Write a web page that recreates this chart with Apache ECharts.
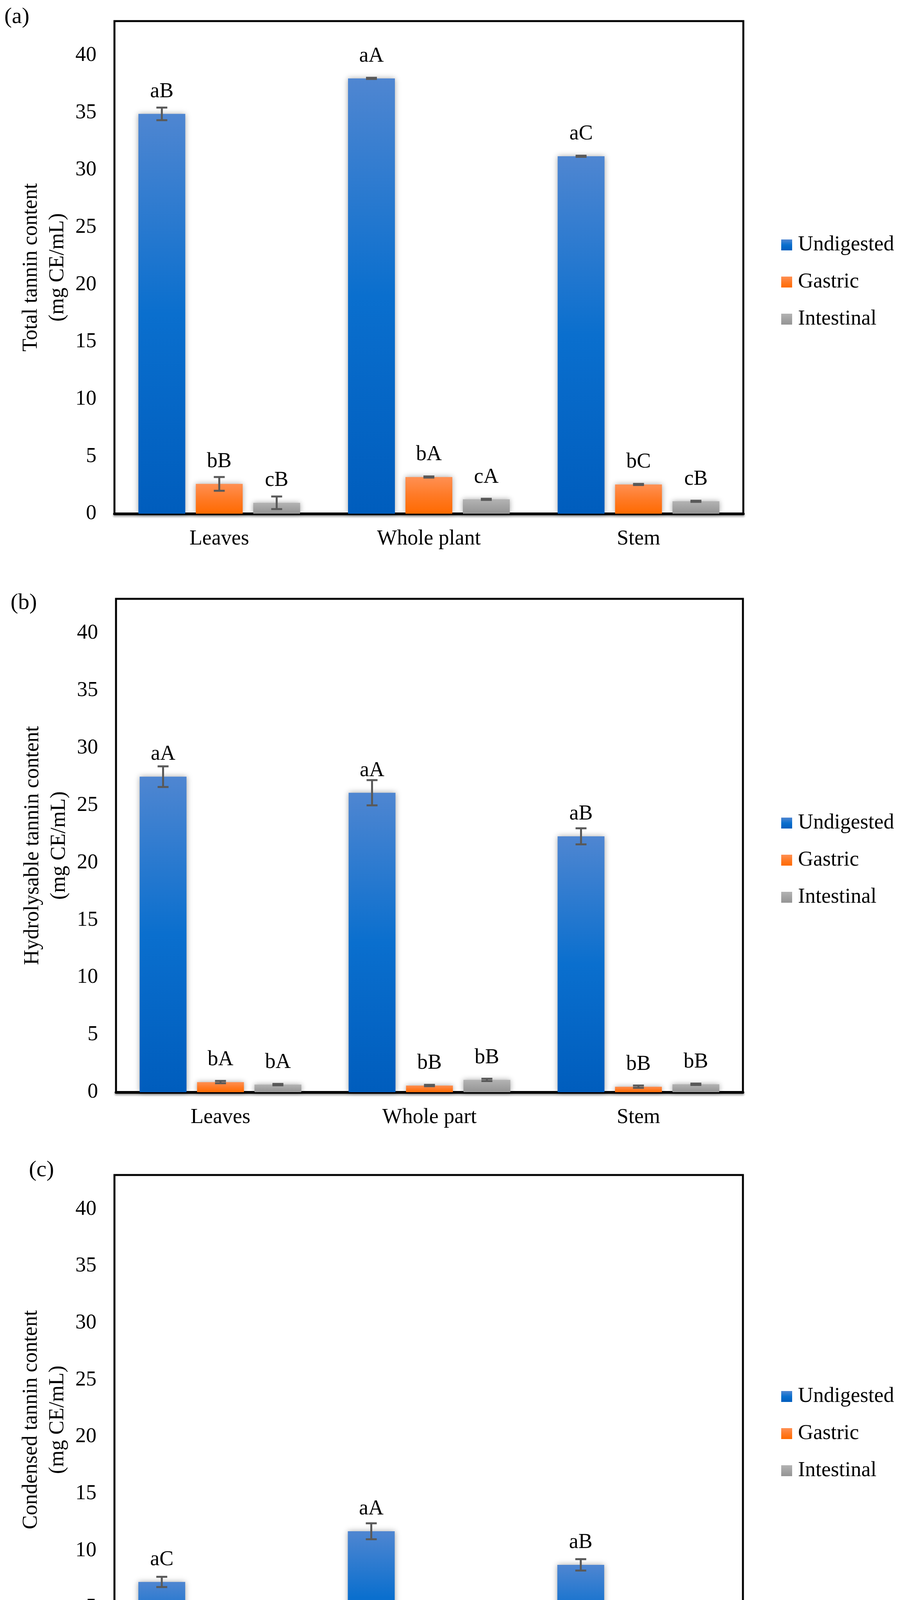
<!DOCTYPE html>
<html>
<head>
<meta charset="utf-8">
<script src="https://cdn.jsdelivr.net/npm/echarts@6/dist/echarts.min.js"></script>
<style>
html,body{margin:0;padding:0;background:#fff;}
#chart{width:2299px;height:4370px;}
</style>
</head>
<body>
<div id="chart"></div>
<script>
// ---------- data ----------
const seriesNames = ['Undigested', 'Gastric', 'Intestinal'];
const yTicks = [0, 5, 10, 15, 20, 25, 30, 35, 40];

// (a) Total tannin
const catsA = ['Leaves', 'Whole plant', 'Stem'];
const aUndigested = [34.9, 38.0, 31.2];
const aGastric = [2.6, 3.2, 2.55];
const aIntestinal = [0.95, 1.25, 1.08];
const aErrUndigested = [0.55, 0.05, 0.05];
const aErrGastric = [0.6, 0.05, 0.05];
const aErrIntestinal = [0.55, 0.05, 0.05];
const aLetUndigested = ['aB', 'aA', 'aC'];
const aLetGastric = ['bB', 'bA', 'bC'];
const aLetIntestinal = ['cB', 'cA', 'cB'];

// (b) Hydrolysable tannin
const catsB = ['Leaves', 'Whole part', 'Stem'];
const bUndigested = [27.5, 26.1, 22.3];
const bGastric = [0.88, 0.58, 0.48];
const bIntestinal = [0.66, 1.07, 0.69];
const bErrUndigested = [0.9, 1.1, 0.7];
const bErrGastric = [0.1, 0.06, 0.1];
const bErrIntestinal = [0.06, 0.1, 0.06];
const bLetUndigested = ['aA', 'aA', 'aB'];
const bLetGastric = ['bA', 'bB', 'bB'];
const bLetIntestinal = ['bA', 'bB', 'bB'];

// (c) Condensed tannin
const catsC = ['Leaves', 'Whole part', 'Stem'];
const cUndigested = [7.25, 11.7, 8.75];
const cGastric = [1.55, 2.6, 2.0];
const cIntestinal = [0.33, 0.24, 0.36];
const cErrUndigested = [0.45, 0.7, 0.5];
const cErrGastric = [0.08, 0.05, 0.04];
const cErrIntestinal = [0.04, 0.04, 0.04];
const cLetUndigested = ['aC', 'aA', 'aB'];
const cLetGastric = ['bC', 'bA', 'bB'];
const cLetIntestinal = ['cB', 'cC', 'cA'];

const panelLabels = ['(a)', '(b)', '(c)'];
const yTitles = ['Total tannin content\n(mg CE/mL)', 'Hydrolysable tannin content\n(mg CE/mL)', 'Condensed tannin content\n(mg CE/mL)'];

// ---------- styling ----------
const FONT = 'Liberation Serif';
const FS = 54;
const BAR_W = 120;
const BAR_GAP_PX = 27;
function grad(stops) {
  return new echarts.graphic.LinearGradient(0, 0, 0, 1, stops.map((c, i) => ({offset: i / (stops.length - 1), color: c})));
}
const fills = [
  grad(['#4f86d1', '#0a6fce', '#005dbd']),
  grad(['#ff9053', '#ff7a26', '#ff6a00']),
  grad(['#b3b3b3', '#a3a3a3', '#949494'])
];

const panels = [
  {cats: catsA, vals: [aUndigested, aGastric, aIntestinal], errs: [aErrUndigested, aErrGastric, aErrIntestinal], lets: [aLetUndigested, aLetGastric, aLetIntestinal],
   grid: {left: 293, top: 54, width: 1610, height: 1261}, legendTop: 595, title: {left: 6, top: 10}},
  {cats: catsB, vals: [bUndigested, bGastric, bIntestinal], errs: [bErrUndigested, bErrGastric, bErrIntestinal], lets: [bLetUndigested, bLetGastric, bLetIntestinal],
   grid: {left: 297, top: 1533, width: 1605, height: 1263}, legendTop: 2075, title: {left: 22, top: 1510}},
  {cats: catsC, vals: [cUndigested, cGastric, cIntestinal], errs: [cErrUndigested, cErrGastric, cErrIntestinal], lets: [cLetUndigested, cLetGastric, cLetIntestinal],
   grid: {left: 293, top: 3008, width: 1609, height: 1253}, legendTop: 3543, title: {left: 69, top: 2962}}
];

const option = {
  animation: false,
  backgroundColor: '#fff',
  title: [], grid: [], xAxis: [], yAxis: [], legend: [], series: []
};

panels.forEach((p, pi) => {
  option.title.push({text: panelLabels[pi], left: p.title.left, top: p.title.top, textStyle: {fontFamily: FONT, fontSize: 58, fontWeight: 'normal', color: '#000'}});
  option.grid.push(Object.assign({show: true, borderColor: '#000', borderWidth: 5, backgroundColor: 'transparent', containLabel: false}, p.grid));
  option.xAxis.push({
    type: 'category', gridIndex: pi, data: p.cats,
    axisTick: {show: false},
    axisLine: {lineStyle: {color: '#000', width: 7, shadowColor: 'rgba(0,0,0,0.35)', shadowBlur: 4, shadowOffsetY: 4}},
    axisLabel: {fontFamily: FONT, fontSize: FS, color: '#000', margin: 38}
  });
  option.yAxis.push({
    type: 'value', gridIndex: pi, min: 0, max: 43, interval: 5,
    splitLine: {show: false}, axisTick: {show: false}, axisLine: {show: false},
    axisLabel: {fontFamily: FONT, fontSize: FS, color: '#000', margin: 46,
      formatter: v => (yTicks.indexOf(v) >= 0 ? String(v) : '')},
    name: yTitles[pi], nameLocation: 'middle', nameGap: 109,
    nameTextStyle: {fontFamily: FONT, fontSize: FS, color: '#000', lineHeight: 68}
  });
  option.legend.push({
    data: seriesNames, orient: 'vertical', left: 1995, top: p.legendTop,
    itemWidth: 28, itemHeight: 28, itemGap: 41, icon: 'rect', selectedMode: false,
    textStyle: {fontFamily: FONT, fontSize: FS, color: '#000', padding: [0, 0, 0, 10]}
  });
  seriesNames.forEach((name, si) => {
    const lets = p.lets[si];
    option.series.push({
      type: 'bar', name: name, xAxisIndex: pi, yAxisIndex: pi,
      data: p.vals[si], barWidth: BAR_W, barGap: (BAR_GAP_PX / BAR_W * 100) + '%',
      itemStyle: {color: fills[si], shadowColor: 'rgba(0,0,0,0.35)', shadowBlur: 14},
      label: {show: true, position: 'top', distance: 30, fontFamily: FONT, fontSize: FS, color: '#000',
        formatter: prm => lets[prm.dataIndex]},
      z: 2
    });
  });
  seriesNames.forEach((name, si) => {
    const offset = (si - 1) * (BAR_W + BAR_GAP_PX);
    option.series.push({
      type: 'custom', name: 'err-' + pi + '-' + si, xAxisIndex: pi, yAxisIndex: pi, z: 5,
      data: p.vals[si].map((v, i) => [i, v, p.errs[si][i]]),
      renderItem: (params, api) => {
        const ci = api.value(0), v = api.value(1), e = api.value(2);
        const c = api.coord([ci, v]);
        const x = c[0] + offset;
        const yTop = api.coord([ci, v + e])[1];
        const yBot = api.coord([ci, v - e])[1];
        const hw = 14;
        const st = {stroke: '#595959', lineWidth: 5};
        return {type: 'group', children: [
          {type: 'line', shape: {x1: x, y1: yTop, x2: x, y2: yBot}, style: st},
          {type: 'line', shape: {x1: x - hw, y1: yTop, x2: x + hw, y2: yTop}, style: st},
          {type: 'line', shape: {x1: x - hw, y1: yBot, x2: x + hw, y2: yBot}, style: st}
        ]};
      }
    });
  });
});

const chart = echarts.init(document.getElementById('chart'));
chart.setOption(option);
</script>
</body>
</html>
